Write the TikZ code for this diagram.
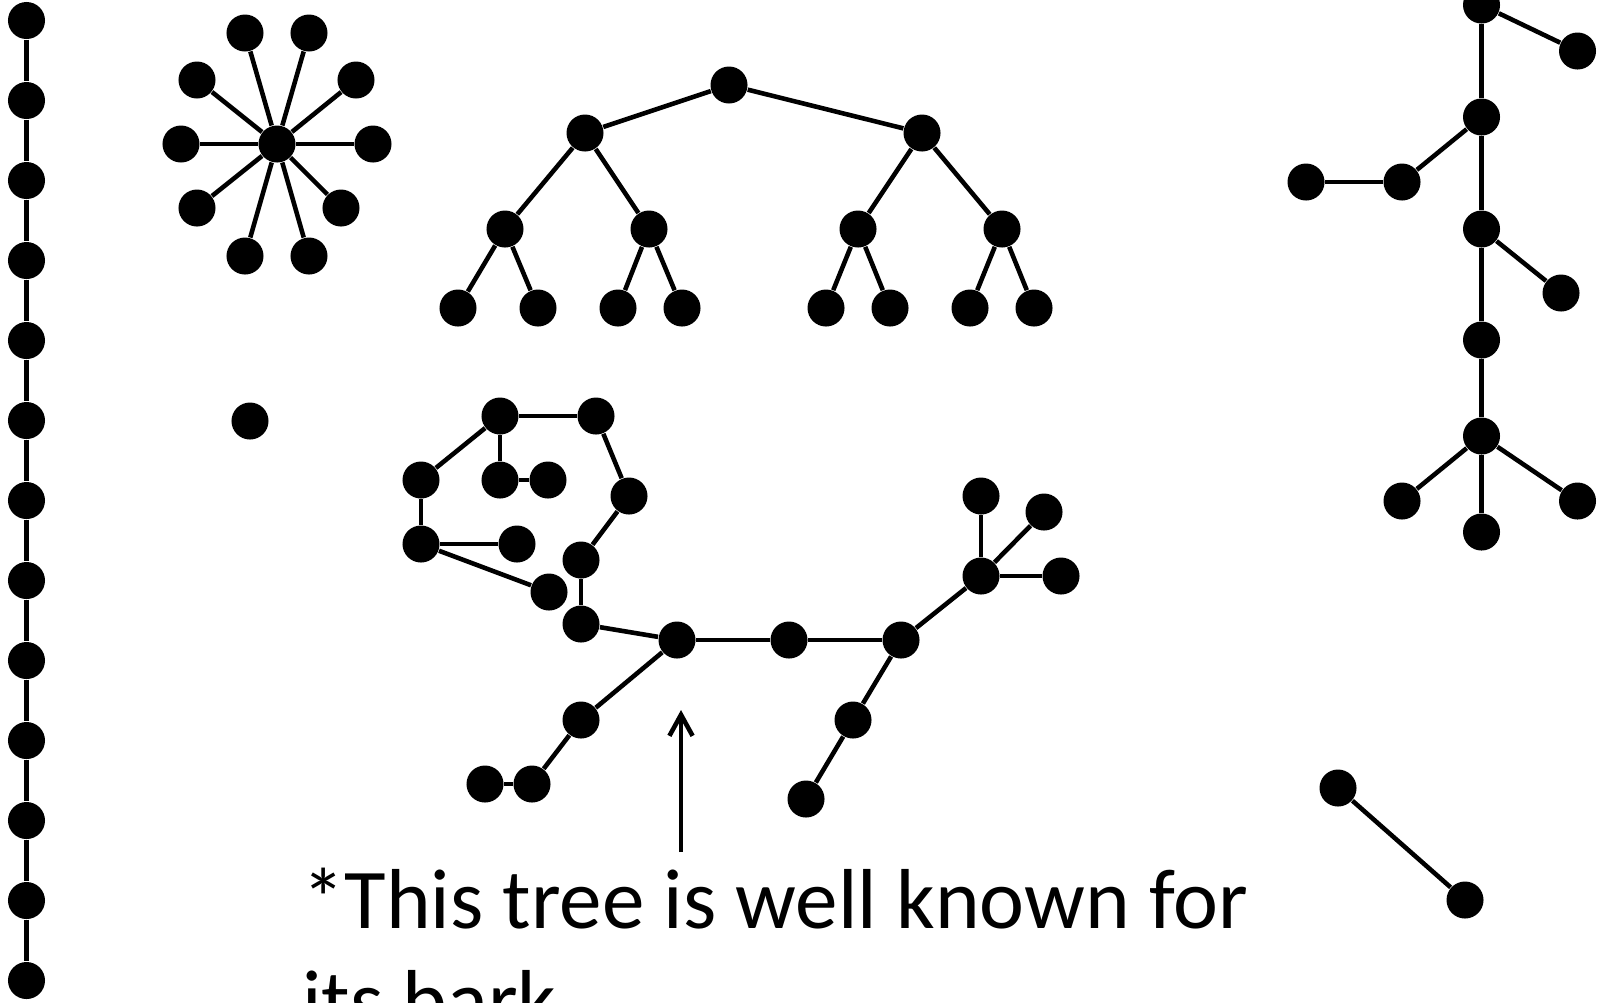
\documentclass[tikz,border=0pt]{standalone}
\usepackage{fontspec}
\setmainfont{Carlito}
\usetikzlibrary{positioning, arrows.meta}

\tikzset{
  vtx/.style={circle, fill=black, inner sep=0pt, minimum size=3.7mm},
  treeEdge/.style={line width=1.3pt},
}

\begin{document}
\begin{tikzpicture}[x=0.01cm, y=-0.01cm]
    \useasboundingbox (0,0) rectangle (1601,1002);

    % long path on the left
    \foreach \i in {0,...,12}
      \node[vtx] (p\i) at (26.5, 20.5+80*\i) {};
    \foreach \i [evaluate=\i as \j using int(\i+1)] in {0,...,11}
      \draw[treeEdge] (p\i) -- (p\j);

    % star
    \node[vtx] (hub) at (277,144) {};
    \foreach \name/\px/\py in {s1/245/33, s2/309/33, s3/197/80, s4/356/80, s5/181/144,
                               s6/373/144, s7/197/208, s8/341/208, s9/245/256, s10/309/256} {
      \node[vtx] (\name) at (\px,\py) {};
      \draw[treeEdge] (hub) -- (\name);
    }

    % binary tree
    \node[vtx] (root) at (729,85) {};
    \node[vtx] (bl) at (585,133) {};
    \node[vtx] (br) at (922,133) {};
    \node[vtx] (bll) at (505,229) {};
    \node[vtx] (blr) at (649,229) {};
    \node[vtx] (brl) at (858,229) {};
    \node[vtx] (brr) at (1002,229) {};
    \foreach \name/\px in {l1/458, l2/538, l3/618, l4/682, l5/826, l6/890, l7/970, l8/1034}
      \node[vtx] (\name) at (\px,308) {};
    \foreach \a/\b in {root/bl, root/br, bl/bll, bl/blr, br/brl, br/brr,
                       bll/l1, bll/l2, blr/l3, blr/l4, brl/l5, brl/l6, brr/l7, brr/l8}
      \draw[treeEdge] (\a) -- (\b);

    % lone vertex
    \node[vtx] (lone) at (250,421) {};

    % tree on the right
    \node[vtx] (r1) at (1481.5,5) {};
    \node[vtx] (r1a) at (1577.5,51) {};
    \node[vtx] (r2) at (1481.5,117) {};
    \node[vtx] (r2a) at (1402,182) {};
    \node[vtx] (r2b) at (1306,182) {};
    \node[vtx] (r3) at (1481.5,229) {};
    \node[vtx] (r3a) at (1561,293) {};
    \node[vtx] (r4) at (1481.5,340) {};
    \node[vtx] (r5) at (1481.5,436) {};
    \node[vtx] (r5a) at (1402,501) {};
    \node[vtx] (r5b) at (1577.5,501) {};
    \node[vtx] (r5c) at (1481.5,532) {};
    \foreach \a/\b in {r1/r1a, r1/r2, r2/r2a, r2a/r2b, r2/r3, r3/r3a, r3/r4, r4/r5,
                       r5/r5a, r5/r5b, r5/r5c}
      \draw[treeEdge] (\a) -- (\b);

    % single edge
    \node[vtx] (e1) at (1338,788) {};
    \node[vtx] (e2) at (1465,900) {};
    \draw[treeEdge] (e1) -- (e2);

    % the bark tree
    \foreach \name/\px/\py in {ta/500/416, tb/596/416, tc/421/480, td/500/480, te/548/480,
                               tf/629/496, tg/421/544, th/517/544, ti/549/592, tj/581/560,
                               tk/581/624, tl/677/640, tm/789/640, tn/901/640, to/981/576,
                               tp/981/496, tq/1044/512, tr/1061/576, ts/853/720, tt/806/799,
                               tu/581/720, tv/532/784, tw/485/784}
      \node[vtx] (\name) at (\px,\py) {};
    \foreach \a/\b in {ta/tb, ta/tc, ta/td, td/te, tb/tf, tc/tg, tg/th, tg/ti, tf/tj, tj/tk,
                       tk/tl, tl/tm, tm/tn, tn/to, to/tp, to/tq, to/tr, tn/ts, ts/tt,
                       tl/tu, tu/tv, tv/tw}
      \draw[treeEdge] (\a) -- (\b);

    % note and arrow
    \node[anchor=north west, inner sep=0pt, align=left,
          font=\fontsize{24.2}{28.7}\selectfont] (note) at (301.5,867.5)
      {*This tree is well known for\\its bark};
    \coordinate (arrowTail) at (681,852);
    \coordinate (arrowTip) at (681,710);
    \draw[-{Straight Barb[length=6pt, width=6.6pt]}, line width=1.3pt] (arrowTail) -- (arrowTip);
\end{tikzpicture}
\end{document}
